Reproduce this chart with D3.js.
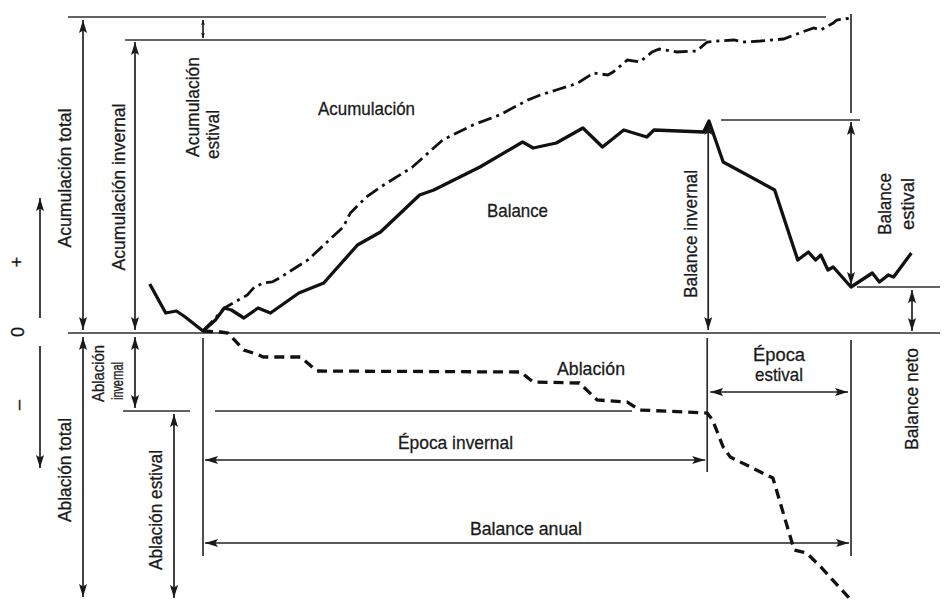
<!DOCTYPE html>
<html><head><meta charset="utf-8">
<script src="https://cdn.jsdelivr.net/npm/d3@7"></script>
<style>body{margin:0;background:#fff}svg{display:block}</style>
</head><body>
<svg id="c" width="947" height="602"></svg>
<script>
// ---- DATA (day of the hydrological year, mass balance in mm w.e.) ----
const balanceDays = [-30,-21,-15,-10,0,7,12,16,23,31,38,54,68,87,100,122,130,156,180,186,199,214,225,237,250,254,282,285,293,322,335,341,345,348,352,355,365,377,381,386,389,399];
const balanceMm   = [490,200,220,160,20,130,250,230,150,250,200,400,500,880,1010,1380,1430,1660,1910,1850,1900,2050,1860,2030,1960,2030,2010,2120,1710,1430,730,810,730,780,630,660,460,600,510,580,560,800];

const accumulationDays = [0,7,12,18,25,29,34,39,43,59,79,83,92,100,118,135,152,167,183,190,199,208,212,220,228,231,239,246,253,257,267,278,284,290,299,304,314,327,336,344,348,355,357,365];
const accumulationMm   = [20,150,250,310,380,460,500,510,550,730,1060,1200,1360,1460,1660,1930,2080,2180,2330,2380,2430,2480,2510,2600,2580,2610,2730,2710,2810,2840,2810,2820,2910,2920,2930,2910,2920,2940,3000,3050,3030,3100,3130,3150];

const ablationDays = [0,10,14,23,30,34,55,64,179,186,212,222,239,246,284,287,293,297,314,321,323,333,340,348,365];
const ablationMm   = [20,10,0,-170,-210,-240,-240,-380,-390,-490,-500,-670,-690,-770,-800,-870,-1140,-1240,-1390,-1450,-1570,-2170,-2200,-2340,-2670];

// key levels / dates
const seasonDays = [0, 284, 365];            // start winter, end winter, end of year
const totalAccumulation = 3160;
const winterAccumulation = 2930;
const winterBalance = 2130;
const netBalance = 460;
const winterAblation = -780;
const totalAblation = -2650;

// ---- SCALES ----
const x = d3.scaleLinear().domain([0, 365]).range([203, 851]);
const y = d3.scaleLinear().domain([0, 3160]).range([333, 17]);

const svg = d3.select("#c");
const defs = svg.append("defs");
function marker(id, L, W) {
  defs.append("marker").attr("id", id)
    .attr("viewBox", `0 0 ${L} ${W}`).attr("refX", L).attr("refY", W/2)
    .attr("markerWidth", L).attr("markerHeight", W)
    .attr("markerUnits", "userSpaceOnUse").attr("orient", "auto-start-reverse")
    .append("path").attr("d", `M0,0 L${L},${W/2} L0,${W} L${L*0.2},${W/2} Z`).attr("fill", "#1a1a1a");
}
marker("ah", 13, 8);
marker("ahs", 5, 4);

const LC = "#2e2e2e", LW = 1.7;
const g = svg.append("g");
function hline(yy, x1, x2) { g.append("line").attr("x1", x1).attr("x2", x2).attr("y1", yy).attr("y2", yy).attr("stroke", LC).attr("stroke-width", LW); }
function vline(xx, y1, y2) { g.append("line").attr("x1", xx).attr("x2", xx).attr("y1", y1).attr("y2", y2).attr("stroke", LC).attr("stroke-width", LW); }
function arrow(x1, y1, x2, y2, both = true, m = "ah") {
  const l = g.append("line").attr("x1", x1).attr("y1", y1).attr("x2", x2).attr("y2", y2)
    .attr("stroke", "#222").attr("stroke-width", LW).attr("marker-end", `url(#${m})`);
  if (both) l.attr("marker-start", `url(#${m})`);
}

// reference lines
hline(y(totalAccumulation), 68, 826);
hline(y(winterAccumulation), 125, x(seasonDays[1]) - 1);
hline(y(0), 68, 940);
hline(y(winterAblation), 123, 190);
hline(y(winterAblation), 215, 632);
hline(y(winterBalance), 721, 860);
hline(y(netBalance), 857, 940);
vline(x(seasonDays[0]), 338, 556);
vline(x(seasonDays[1]), 338, 472);
vline(x(seasonDays[2]), 340, 556);
vline(x(seasonDays[2]), 14, 113);

// dimension arrows
arrow(83, y(totalAccumulation) + 3, 83, y(0) - 3);
arrow(135, y(winterAccumulation) + 2, 135, y(0) - 3);
arrow(83, y(0) + 4, 83, y(totalAblation) - 1);
arrow(135, y(0) + 4, 135, y(winterAblation) - 3);
arrow(174, y(winterAblation) + 3, 174, y(totalAblation));
arrow(x(seasonDays[0]), y(totalAccumulation) + 3, x(seasonDays[0]), y(winterAccumulation) - 2, true, "ahs");
arrow(x(seasonDays[1]) + 1, y(winterBalance) + 2, x(seasonDays[1]) + 1, y(0) - 3);
arrow(x(seasonDays[2]), y(winterBalance) + 2, x(seasonDays[2]), y(netBalance) - 2);
arrow(912, y(netBalance) + 3, 912, y(0) - 2);
arrow(x(seasonDays[0]) + 2, 460, x(seasonDays[1]) - 2, 460);
arrow(x(seasonDays[0]) + 2, 543, x(seasonDays[2]) - 2, 543);
arrow(x(seasonDays[1]) + 3, 392, x(seasonDays[2]) - 3, 392);
arrow(40, 318, 40, 198, false);
arrow(40, 346, 40, 468, false);

// ---- CURVES ----
const line = d3.line().x(d => x(d[0])).y(d => y(d[1]));
const zip = (a, b) => a.map((d, i) => [d, b[i]]);
svg.append("path").datum(zip(ablationDays, ablationMm)).attr("d", line)
  .attr("fill", "none").attr("stroke", "#111").attr("stroke-width", 3.3).attr("stroke-dasharray", "10,6");
svg.append("path").datum(zip(accumulationDays, accumulationMm)).attr("d", line)
  .attr("fill", "none").attr("stroke", "#111").attr("stroke-width", 2.8).attr("stroke-dasharray", "14,5,3,5");
svg.append("path").datum(zip(balanceDays, balanceMm)).attr("d", line)
  .attr("fill", "none").attr("stroke", "#111").attr("stroke-width", 3.3).attr("stroke-linejoin", "round");

// ---- TEXT ----
const FONT = "'Liberation Sans Narrow','Arial Narrow','Liberation Sans',Arial,sans-serif";
const t = svg.append("g").attr("font-family", FONT).attr("fill", "#1a1a1a")
  .attr("stroke", "#1a1a1a").attr("stroke-width", 0.3);
function htext(s, xx, yy, len, fs = 19) {
  t.append("text").attr("x", xx).attr("y", yy).attr("font-size", fs)
    .attr("textLength", len).attr("lengthAdjust", "spacingAndGlyphs").text(s);
}
function vtext(s, cx, cy, len, anchor = "middle", fs = 19) {
  const e = t.append("text").attr("transform", `translate(${cx},${cy}) rotate(-90)`)
    .attr("text-anchor", anchor).attr("dy", "0.36em").attr("font-size", fs).text(s);
  if (len) e.attr("textLength", len).attr("lengthAdjust", "spacingAndGlyphs");
}
htext("Acumulación", 318, 115, 97);
htext("Balance", 487, 217, 61);
htext("Ablación", 557, 375, 68);
htext("Época invernal", 398, 449, 115);
htext("Balance anual", 470, 535, 112);
htext("Época", 753, 361, 52);
htext("estival", 755, 381, 48);

vtext("Acumulación total", 64, 178, 139);
vtext("Acumulación invernal", 118, 187, 167);
vtext("Acumulación", 192, 157, 100, "start");
vtext("estival", 212, 159, 49, "start");
vtext("Ablación", 98, 402, 57, "start", 16);
vtext("invernal", 117, 400, 38, "start", 16);
vtext("Ablación total", 64, 470, 104);
vtext("Ablación estival", 155, 510, 120);
vtext("Balance invernal", 690, 234, 128);
vtext("Balance", 884, 204, 62);
vtext("estival", 907, 204, 52);
vtext("Balance neto", 911, 399, 102);
vtext("+", 17, 262, null, "middle", 18);
vtext("0", 18, 332, null, "middle", 18);
vtext("–", 18, 405, null, "middle", 18);
</script>
</body></html>
